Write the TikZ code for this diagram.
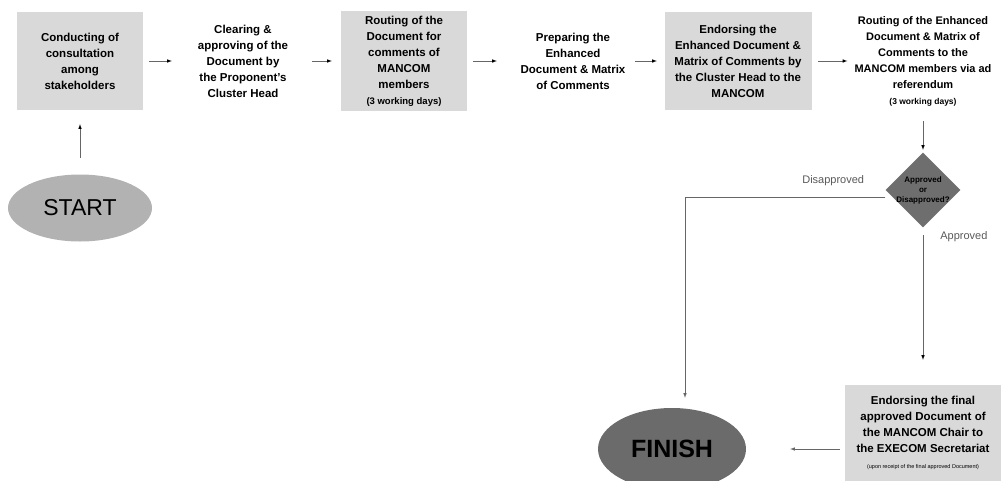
\documentclass[tikz,border=0pt]{standalone}
\usepackage{fontspec}
\setmainfont{Liberation Sans}
\usetikzlibrary{shapes.geometric, arrows}
\tikzstyle{startstop} = [ellipse,
minimum width=144pt,
minimum height=67pt,
text centered,
fill=black!30]
\tikzstyle{shaded} = [rectangle,
minimum width=126pt,
minimum height=98pt,
align=center,
inner sep=2pt,
fill=gray!30]
\tikzstyle{plain} = [rectangle,
minimum width=110pt,
align=center,
inner sep=0pt]
\tikzstyle{decision} = [diamond,
minimum width=75pt,
minimum height=75pt,
inner sep=0pt,
fill=black!57]
\tikzstyle{lbl} = [font=\mdseries\fontsize{11}{13}\selectfont,
text=black!65,
inner sep=1pt]
\tikzstyle{flow} = [->, >=latex, line width=0.6pt, draw=black!60]

\begin{document}
\begin{tikzpicture}[x=1pt, y=-1pt, node distance=165pt]
\tikzstyle{every node}=[font=\bfseries\fontsize{11.5}{16}\selectfont]
\useasboundingbox (0,0) rectangle (1002,480);
\node (n1) [shaded] at (80,61) {Conducting of\\consultation\\among\\stakeholders};
\node (n2) [plain, right of=n1, xshift=-2pt] {Clearing \&\\approving of the\\Document by\\the Proponent's\\Cluster Head};
\node (n3) [shaded, right of=n2, xshift=-4pt, minimum height=100pt] {Routing of the\\Document for\\comments of\\MANCOM\\members\\{\fontsize{9.5}{12}\selectfont (3 working days)}};
\node (n4) [plain, right of=n3, xshift=4pt] {Preparing the\\Enhanced\\Document \& Matrix\\of Comments};
\node (n5) [shaded, right of=n4, minimum width=147pt] {Endorsing the\\Enhanced Document \&\\Matrix of Comments by\\the Cluster Head to the\\MANCOM};
\node (n6) [plain, right of=n5, xshift=20pt, font=\bfseries\fontsize{11}{16}\selectfont] {Routing of the Enhanced\\Document \& Matrix of\\Comments to the\\MANCOM members via ad\\referendum\\{\fontsize{8.5}{11}\selectfont (3 working days)}};
\node (dia) [decision, below of=n6, yshift=36pt, label={[font=\bfseries\fontsize{8}{10}\selectfont, align=center]center:Approved\\or\\Disapproved?}] {};
\node (n7) [shaded, below of=dia, yshift=-78pt, minimum width=156pt, minimum height=96pt] {Endorsing the final\\approved Document of\\the MANCOM Chair to\\the EXECOM Secretariat\\{\mdseries\fontsize{5.5}{7}\selectfont (upon receipt of the final approved Document)}};
\node (finish) [startstop, left of=n7, xshift=-86pt, yshift=-16pt, minimum width=148pt, minimum height=82pt, fill=black!58, font=\bfseries\fontsize{25}{25}\selectfont] {FINISH};
\node (start) [startstop, below of=n1, yshift=18pt, font=\mdseries\fontsize{23}{23}\selectfont] {START};

\draw [flow, shorten <=16.5pt, shorten >=14pt] (start) edge (n1);
\draw [flow, shorten <=6pt, shorten >=16pt] (n1) edge (n2);
\draw [flow, shorten <=14pt, shorten >=9pt] (n2) edge (n3);
\draw [flow, shorten <=6pt, shorten >=21pt] (n3) edge (n4);
\draw [flow, shorten <=7pt, shorten >=7.5pt] (n4) edge (n5);
\draw [flow, shorten <=6.5pt, shorten >=7pt] (n5) edge (n6);
\draw [flow, shorten <=15pt, shorten >=2.5pt] (n6) edge (dia);
\draw [flow, shorten >=10pt] ([yshift=-7pt]dia.west) -| node [lbl, pos=0.13, above=10pt] {Disapproved} ([xshift=13pt]finish.north);
\draw [flow, shorten <=7.5pt, shorten >=25pt] (dia) edge node [lbl, pos=0.06, right=16pt] {Approved} (n7);
\draw [flow, shorten <=5pt, shorten >=44pt] (n7.west |- finish) -- (finish);
\end{tikzpicture}
\end{document}
